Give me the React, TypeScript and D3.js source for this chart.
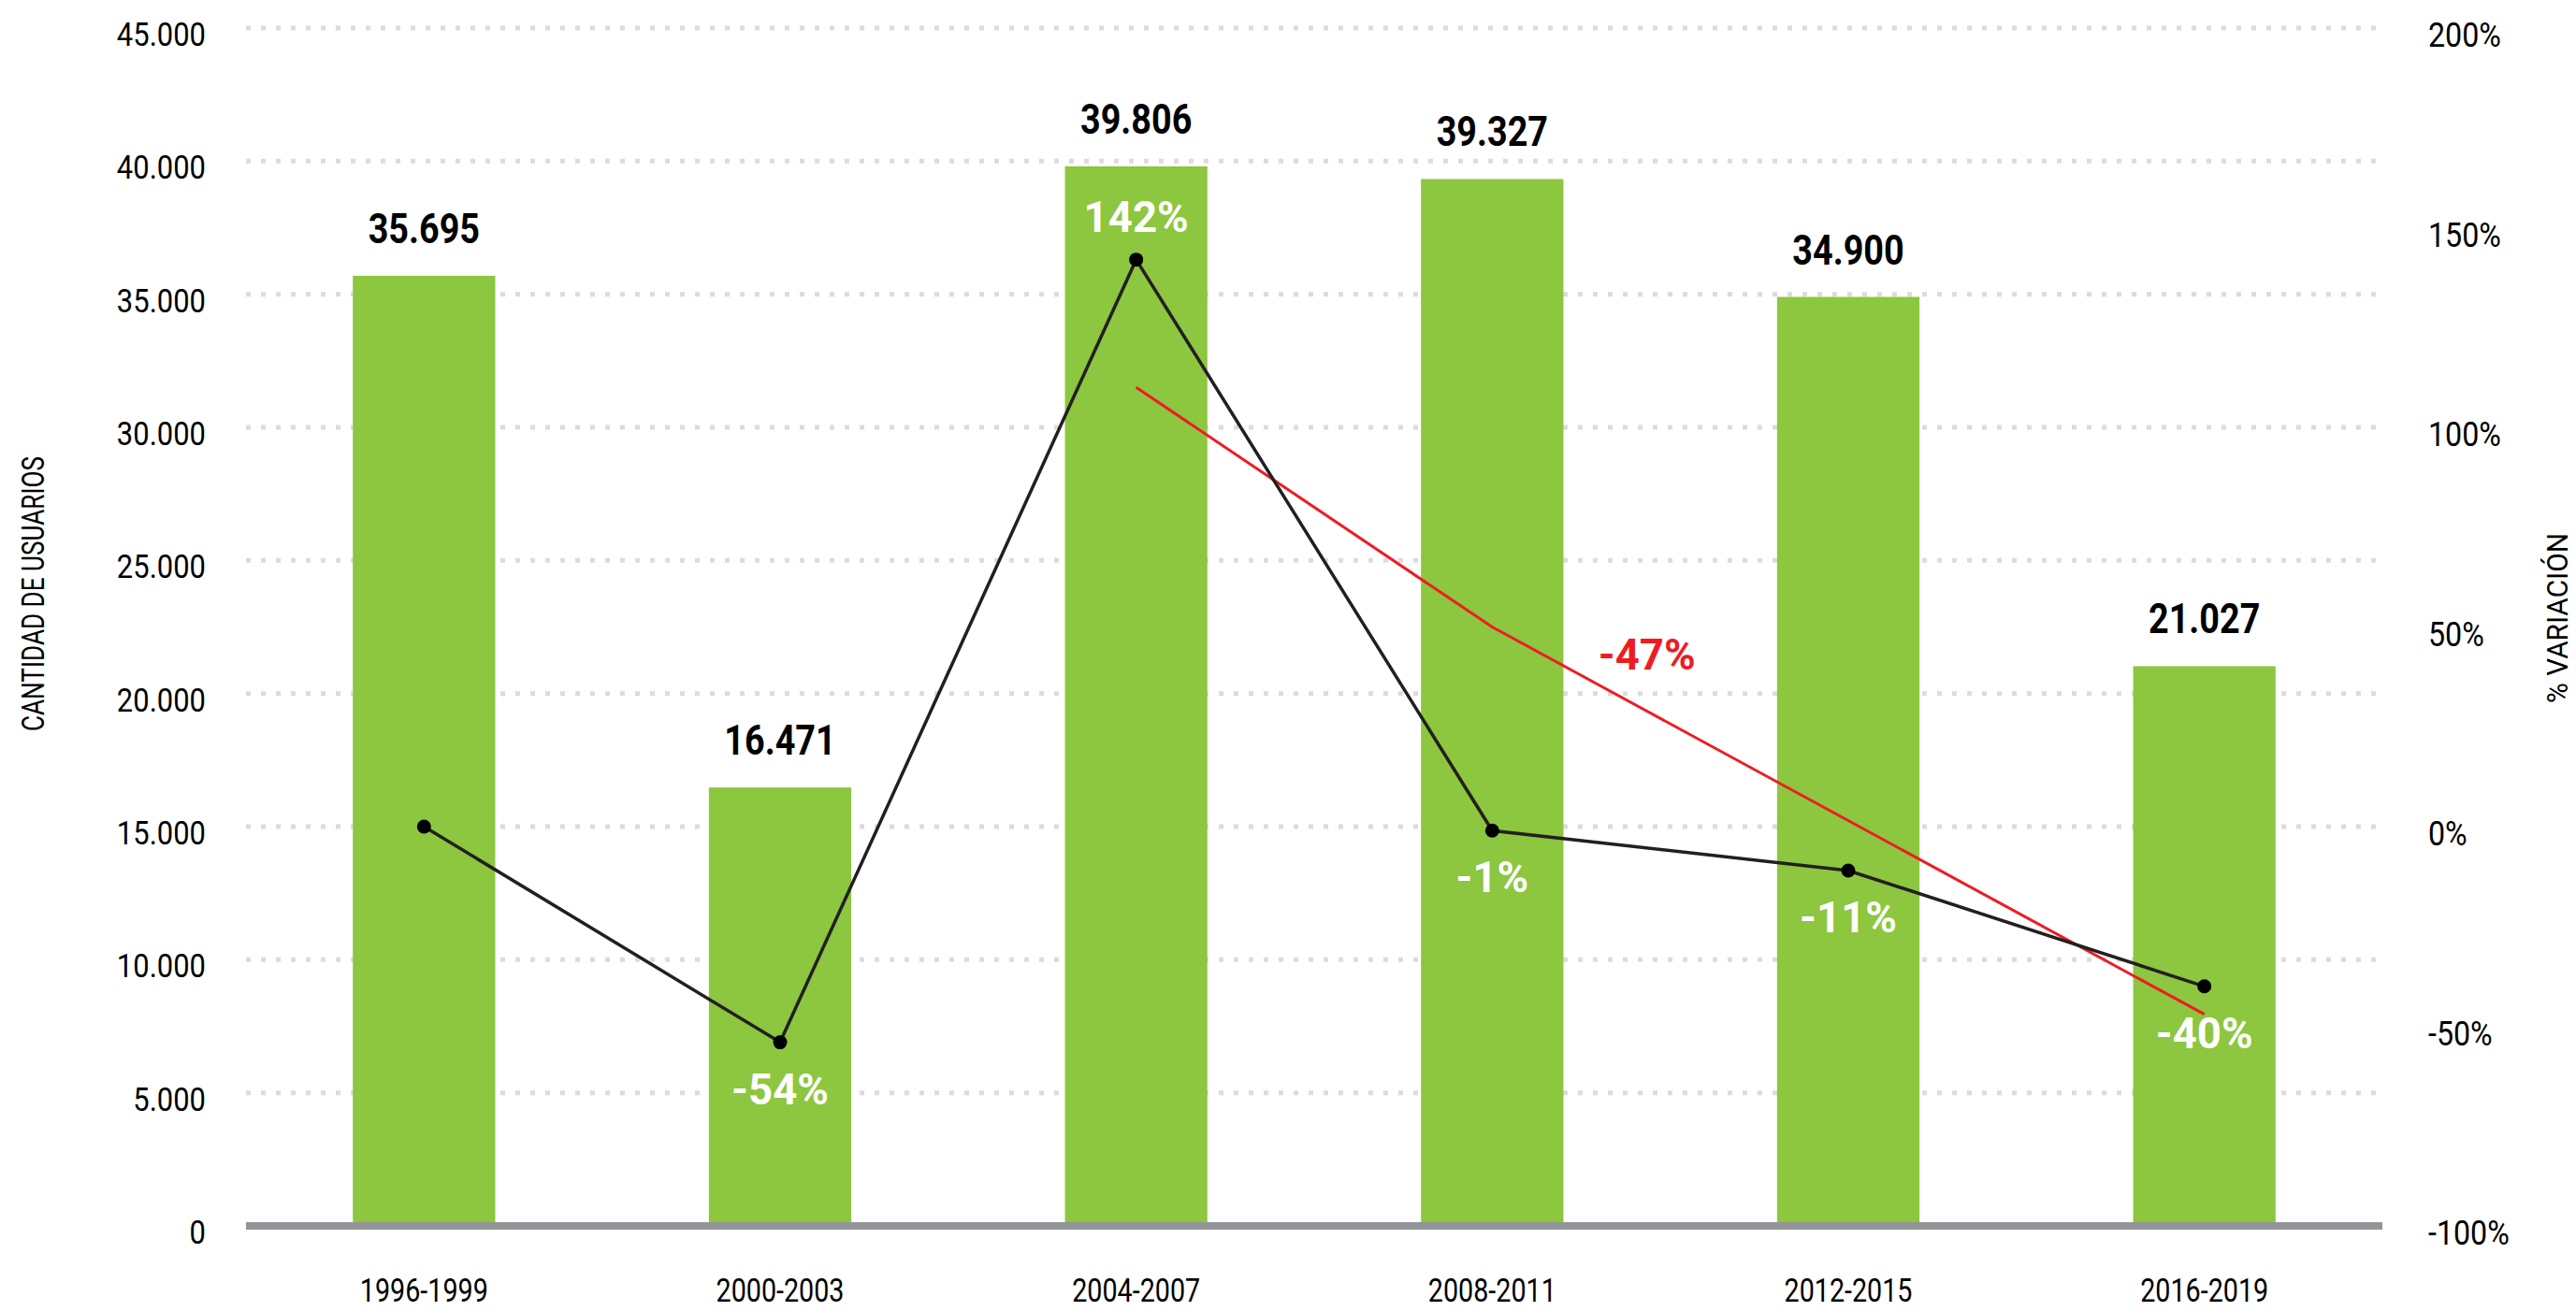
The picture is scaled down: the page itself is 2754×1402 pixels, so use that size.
import React, { useEffect } from "react";
import * as d3 from "d3";

const categories = ["1996-1999", "2000-2003", "2004-2007", "2008-2011", "2012-2015", "2016-2019"];
const users = [35695, 16471, 39806, 39327, 34900, 21027];
const variation = [0, -54, 142, -1, -11, -40];
const variationLabels = ["", "-54%", "142%", "-1%", "-11%", "-40%"];
const variationLabelSide = ["below", "below", "above", "below", "below", "below"];
const trendRed: (number | null)[] = [null, null, 110, 50, null, -47];
const trendLabel = "-47%";
const leftTicks = [0, 5000, 10000, 15000, 20000, 25000, 30000, 35000, 40000, 45000];
const rightTicks = [-100, -50, 0, 50, 100, 150, 200];

const W = 2754;
const H = 1402;
const FONT = "Roboto, 'Liberation Sans', Arial, sans-serif";

const locale = d3.formatLocale({ decimal: ",", thousands: ".", grouping: [3], currency: ["", ""] });
const fmt = locale.format(",d");

function CText(props: {
  x: number; y: number; sx?: number; anchor?: string; size: number; weight?: string | number;
  fill?: string; children: React.ReactNode;
}) {
  const { x, y, sx = 0.85, anchor = "middle", size, weight = 400, fill = "#000", children } = props;
  return (
    <text
      transform={`translate(${x},${y}) scale(${sx},1)`}
      textAnchor={anchor}
      fontSize={size}
      fontWeight={weight}
      fill={fill}
      fontFamily={FONT}
    >
      {children}
    </text>
  );
}

export default function App() {
  useEffect(() => {
    document.body.style.margin = "0";
  }, []);

  const x = d3.scaleBand<string>().domain(categories).range([263, 2547]).paddingInner(0.6).paddingOuter(0.3);
  const y = d3.scaleLinear().domain([0, 45000]).range([1311, 30]);
  const yp = d3.scaleLinear().domain([-100, 200]).range([1311, 30]);
  const cx = (c: string) => (x(c) as number) + x.bandwidth() / 2;

  const blackLine = d3
    .line<number>()
    .x((_, i) => cx(categories[i]))
    .y((d) => yp(d))(variation) as string;

  const redPts = trendRed
    .map((v, i) => ({ v, i }))
    .filter((p) => p.v !== null) as { v: number; i: number }[];
  const redLine = d3
    .line<{ v: number; i: number }>()
    .x((p) => cx(categories[p.i]))
    .y((p) => yp(p.v))(redPts) as string;

  const redMidX = (cx(categories[3]) + cx(categories[4])) / 2 - 25;

  return (
    <svg width={W} height={H} style={{ display: "block", background: "#fff" }}>
      {/* grid */}
      {leftTicks.filter((t) => t > 0).map((t) => (
        <line
          key={"g" + t}
          x1={263}
          x2={2547}
          y1={y(t)}
          y2={y(t)}
          stroke="#dcdcdc"
          strokeWidth={5}
          strokeDasharray="5 11"
        />
      ))}
      {/* bars */}
      {categories.map((c, i) => (
        <rect key={"b" + c} x={x(c)} y={y(users[i])} width={x.bandwidth()} height={y(0) - y(users[i])} fill="#8dc63f" />
      ))}
      {/* baseline */}
      <line x1={263} x2={2547} y1={1311} y2={1311} stroke="#939598" strokeWidth={8} />
      {/* left ticks */}
      {leftTicks.map((t) => (
        <CText key={"l" + t} x={220} y={y(t) + 19} anchor="end" size={36} sx={0.86}>
          {fmt(t)}
        </CText>
      ))}
      {/* right ticks */}
      {rightTicks.map((t) => (
        <CText key={"r" + t} x={2596} y={yp(t) + 20} anchor="start" size={37} sx={0.87}>
          {t + "%"}
        </CText>
      ))}
      {/* x labels */}
      {categories.map((c) => (
        <CText key={"x" + c} x={cx(c)} y={1392} size={35} sx={0.82}>
          {c}
        </CText>
      ))}
      {/* axis titles */}
      <text
        transform={`translate(47,635) rotate(-90)`}
        textAnchor="middle"
        fontSize={34}
        fontFamily={FONT}
        textLength={294}
        lengthAdjust="spacingAndGlyphs"
        fill="#000"
      >
        CANTIDAD DE USUARIOS
      </text>
      <text
        transform={`translate(2745,661) rotate(-90)`}
        textAnchor="middle"
        fontSize={32}
        fontFamily={FONT}
        textLength={182}
        lengthAdjust="spacingAndGlyphs"
        fill="#000"
      >
        % VARIACIÓN
      </text>
      {/* value labels */}
      {categories.map((c, i) => (
        <CText key={"v" + c} x={cx(c)} y={y(users[i]) - 35} size={45} weight={700} sx={0.84}>
          {fmt(users[i])}
        </CText>
      ))}
      {/* red trend */}
      <path d={redLine} fill="none" stroke="#ed1c24" strokeWidth={3} />
      {/* black variation line */}
      <path d={blackLine} fill="none" stroke="#231f20" strokeWidth={3.5} />
      {variation.map((v, i) => (
        <circle key={"p" + i} cx={cx(categories[i])} cy={yp(v)} r={7.5} fill="#000" />
      ))}
      {variationLabels.map((l, i) =>
        l ? (
          <CText
            key={"vl" + i}
            x={cx(categories[i])}
            y={variationLabelSide[i] === "above" ? yp(variation[i]) - 30 : yp(variation[i]) + 66}
            size={47}
            weight={700}
            fill="#fff"
            sx={0.97}
          >
            {l}
          </CText>
        ) : null
      )}
      <CText x={redMidX} y={716} size={47} weight={700} fill="#ed1c24" sx={0.97}>
        {trendLabel}
      </CText>
    </svg>
  );
}
